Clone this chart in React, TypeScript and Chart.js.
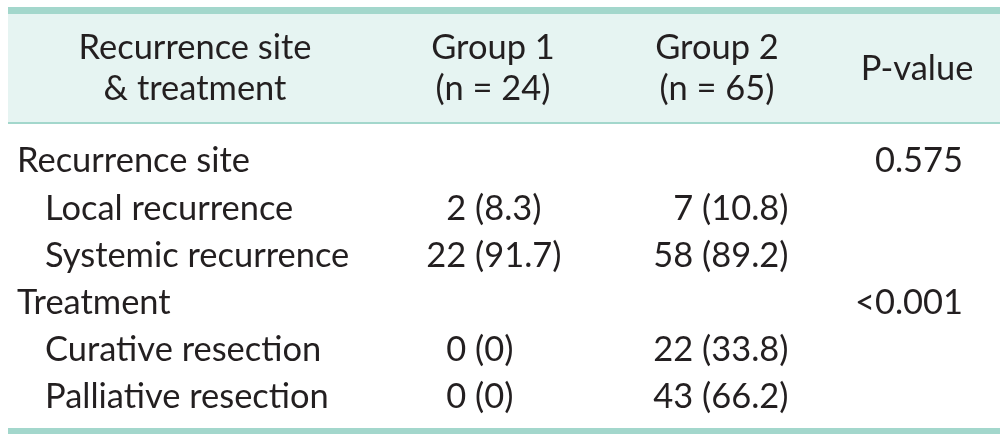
import React, { useEffect, useRef } from "react";
import { Chart, registerables } from "chart.js";

Chart.register(...registerables);

// ---- Data ----
const headerLine1 = ["Recurrence site", "Group 1", "Group 2"];
const headerLine2 = ["& treatment", "(n = 24)", "(n = 65)"];
const pHeader = "P-value";
const rowLabels = [
  "Recurrence site",
  "Local recurrence",
  "Systemic recurrence",
  "Treatment",
  "Curative resection",
  "Palliative resection",
];
const rowIndent = [0, 1, 1, 0, 1, 1];
const group1Counts: (string | null)[] = [null, "2", "22", null, "0", "0"];
const group1Pct: (string | null)[] = [null, "8.3", "91.7", null, "0", "0"];
const group2Counts: (string | null)[] = [null, "7", "58", null, "22", "43"];
const group2Pct: (string | null)[] = [null, "10.8", "89.2", null, "33.8", "66.2"];
const pValues: (string | null)[] = ["0.575", null, null, "<0.001", null, null];

// ---- Layout / style ----
const W = 1008;
const H = 439;
const FONT = "Lato, 'Open Sans', sans-serif";
const TEXT = "#231f20";
const TEAL = "#a3d7cc";
const HEAD_BG = "#e6f4f2";

const tablePlugin = {
  id: "tablePlugin",
  afterDraw(chart: any) {
    const ctx = chart.ctx as CanvasRenderingContext2D;
    const xs = chart.scales.x;
    const ys = chart.scales.y;
    const X = (v: number) => xs.getPixelForValue(v);
    const Y = (v: number) => ys.getPixelForValue(v);

    ctx.save();
    ctx.fillStyle = "#ffffff";
    ctx.fillRect(0, 0, W, H);

    const left = X(8);
    const right = X(1000);
    // header background
    ctx.fillStyle = HEAD_BG;
    ctx.fillRect(left, Y(14), right - left, Y(122) - Y(14));
    // top thick rule
    ctx.fillStyle = TEAL;
    ctx.fillRect(left, Y(7), right - left, Y(14) - Y(7));
    // header bottom thin rule
    ctx.fillRect(left, Y(122), right - left, Y(124) - Y(122));
    // bottom thick rule
    ctx.fillRect(left, Y(428), right - left, Y(434) - Y(428));

    // font size fitted
    ctx.font = `400 100px ${FONT}`;
    const ref = ctx.measureText("Recurrence site").width;
    const fs = (100 * 233) / ref;
    ctx.font = `400 ${fs}px ${FONT}`;
    ctx.fillStyle = TEXT;
    ctx.textBaseline = "alphabetic";
    const capHalf = fs * 0.36;

    // header
    const headCenters = [195, 493, 717];
    ctx.textAlign = "center";
    headerLine1.forEach((t, i) => ctx.fillText(t, X(headCenters[i]), Y(47) + capHalf));
    headerLine2.forEach((t, i) => ctx.fillText(t, X(headCenters[i]), Y(88) + capHalf));
    ctx.fillText(pHeader, X(917), Y(68) + capHalf);

    // body rows
    const spaceW = ctx.measureText(" ").width;
    rowLabels.forEach((label, i) => {
      const yc = Y(160 + i * 47.2) + capHalf;
      ctx.textAlign = "left";
      ctx.fillText(label, X(rowIndent[i] ? 45 : 17), yc);
      const drawCell = (cnt: string | null, pct: string | null, anchor: number) => {
        if (cnt == null) return;
        ctx.textAlign = "right";
        ctx.fillText(cnt, X(anchor) - spaceW, yc);
        ctx.textAlign = "left";
        ctx.fillText(`(${pct})`, X(anchor), yc);
      };
      drawCell(group1Counts[i], group1Pct[i], 475);
      drawCell(group2Counts[i], group2Pct[i], 702);
      if (pValues[i]) {
        ctx.textAlign = "right";
        ctx.fillText(pValues[i] as string, X(963), yc);
      }
    });
    ctx.restore();
  },
};

export default function App() {
  const ref = useRef<HTMLCanvasElement | null>(null);
  useEffect(() => {
    document.body.style.margin = "0";
    const canvas = ref.current;
    if (!canvas) return;
    const chart = new Chart(canvas, {
      type: "scatter",
      data: { datasets: [{ data: [], pointRadius: 0 }] },
      options: {
        animation: false,
        responsive: false,
        maintainAspectRatio: false,
        devicePixelRatio: 1,
        layout: { padding: 0 },
        plugins: { legend: { display: false }, tooltip: { enabled: false } },
        scales: {
          x: { type: "linear", min: 0, max: W, display: false },
          y: { type: "linear", min: 0, max: H, reverse: true, display: false },
        },
      },
      plugins: [tablePlugin],
    });
    return () => chart.destroy();
  }, []);
  return (
    <div style={{ width: W, height: H }}>
      <canvas ref={ref} width={W} height={H} style={{ display: "block" }} />
    </div>
  );
}
